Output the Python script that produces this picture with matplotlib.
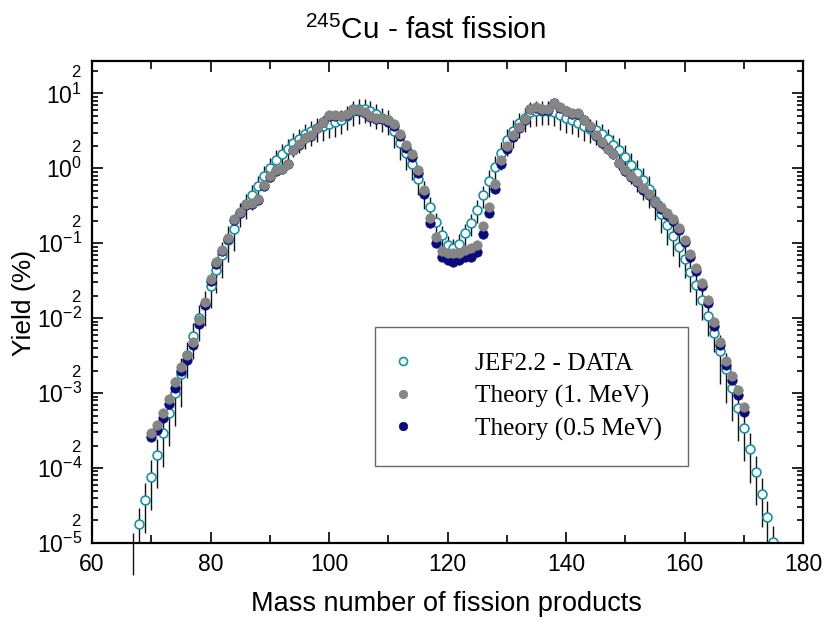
import numpy as np
import matplotlib
matplotlib.use('Agg')
import matplotlib.pyplot as plt
from matplotlib.ticker import LogLocator, FuncFormatter, MultipleLocator

plt.rcParams['font.family'] = ['Liberation Sans', 'DejaVu Sans']
plt.rcParams['mathtext.fontset'] = 'custom'
plt.rcParams['mathtext.rm'] = 'Liberation Sans'
plt.rcParams['mathtext.it'] = 'Liberation Sans:italic'
plt.rcParams['mathtext.bf'] = 'Liberation Sans:bold'

# JEF2.2 evaluated yields (%), mass 68..175
mass_jef = list(range(68, 176))
yield_jef = [
    1.8e-5, 3.8e-5, 7.7e-5, 1.5e-4, 2.9e-4, 5.5e-4, 1.0e-3, 1.8e-3,      # 68-75
    3.2e-3, 5.7e-3, 1.0e-2, 1.55e-2, 2.7e-2, 4.4e-2, 6.9e-2, 0.112,      # 76-83
    0.157, 0.254, 0.33, 0.44, 0.575, 0.79, 1.02, 1.28,                   # 84-91
    1.57, 1.83, 2.2, 2.49, 2.84, 3.14, 3.49, 3.65,                       # 92-99
    3.94, 4.15, 4.46, 5.0, 5.75, 6.1, 6.2, 5.75,                         # 100-107
    5.25, 4.75, 4.4, 3.14, 2.17, 1.6, 1.15, 0.73,                        # 108-115
    0.48, 0.30, 0.19, 0.128, 0.094, 0.086, 0.099, 0.135,                 # 116-123
    0.187, 0.28, 0.44, 0.68, 1.04, 1.6, 2.41, 3.14,                      # 124-131
    4.0, 4.75, 5.6, 5.75, 5.9, 5.9, 5.7, 5.1,                            # 132-139
    4.69, 4.46, 4.07, 3.66, 3.38, 3.21, 2.84, 2.49,                      # 140-147
    2.07, 1.74, 1.42, 1.12, 0.877, 0.69, 0.536, 0.37,                    # 148-155
    0.249, 0.174, 0.124, 0.088, 0.062, 0.041, 0.0275, 0.0174,            # 156-163
    0.0106, 0.0064, 3.66e-3, 2.07e-3, 1.18e-3, 6.4e-4, 3.4e-4, 1.77e-4,  # 164-171
    8.9e-5, 4.5e-5, 2.2e-5, 1.04e-5,                                     # 172-175
]
rel_err_jef = [
    0.64, 0.64, 0.64, 0.64, 0.64, 0.64, 0.64, 0.64,
    0.50, 0.50, 0.50, 0.50, 0.50, 0.50, 0.50, 0.50,
    0.50, 0.36, 0.36, 0.36, 0.36, 0.36, 0.36, 0.36,
    0.36, 0.36, 0.36, 0.36, 0.36, 0.36, 0.36, 0.36,
    0.36, 0.36, 0.36, 0.36, 0.36, 0.36, 0.36, 0.36,
    0.36, 0.36, 0.36, 0.40, 0.40, 0.40, 0.40, 0.40,
    0.40, 0.40, 0.33, 0.33, 0.33, 0.33, 0.33, 0.33,
    0.33, 0.33, 0.33, 0.40, 0.40, 0.40, 0.40, 0.40,
    0.36, 0.36, 0.36, 0.36, 0.36, 0.36, 0.36, 0.36,
    0.36, 0.36, 0.36, 0.36, 0.36, 0.36, 0.36, 0.36,
    0.36, 0.45, 0.45, 0.45, 0.45, 0.45, 0.45, 0.45,
    0.45, 0.45, 0.45, 0.45, 0.45, 0.45, 0.45, 0.45,
    0.45, 0.45, 0.64, 0.64, 0.64, 0.64, 0.64, 0.64,
    0.64, 0.64, 0.64, 0.64,
]

# error bar of the point at A=67 that sits below the plotted range
stray_mass = [67]
stray_lo = [3.7e-6]
stray_hi = [1.36e-5]

# theory, mass 70..170
mass_th = list(range(70, 171))
yield_1mev = [
    2.96e-4, 3.74e-4, 5.5e-4, 8.3e-4, 1.4e-3, 2.24e-3, 3.2e-3, 4.8e-3,   # 70-77
    9.6e-3, 1.65e-2, 3.3e-2, 5.6e-2, 8.2e-2, 0.118, 0.213, 0.26,         # 78-85
    0.33, 0.34, 0.39, 0.59, 0.78, 0.94, 0.99, 1.15,                      # 86-93
    1.77, 2.09, 2.57, 2.75, 3.45, 4.15, 5.1, 5.1,                        # 94-101
    5.0, 5.25, 6.2, 6.0, 5.65, 4.95, 4.7, 4.65,                          # 102-109
    4.4, 3.94, 2.9, 2.03, 1.57, 0.96, 0.52, 0.22,                        # 110-117
    0.121, 0.079, 0.073, 0.073, 0.073, 0.081, 0.086, 0.094,              # 118-125
    0.169, 0.305, 0.61, 1.3, 1.99, 2.75, 3.56, 4.5,                      # 126-133
    6.25, 6.5, 6.1, 6.1, 7.5, 6.5, 5.9, 5.4,                             # 134-141
    5.4, 4.46, 3.66, 2.75, 2.24, 1.83, 1.57, 1.19,                       # 142-149
    0.94, 0.79, 0.67, 0.54, 0.46, 0.36, 0.30, 0.25,                      # 150-157
    0.213, 0.162, 0.112, 0.071, 0.047, 0.0296, 0.0177, 0.0090,           # 158-165
    4.8e-3, 2.7e-3, 1.69e-3, 1.1e-3, 6.6e-4,                             # 166-170
]
yield_05mev = [
    2.56e-4, 3.2e-4, 4.7e-4, 7.1e-4, 1.17e-3, 1.95e-3, 2.8e-3, 4.4e-3,
    8.3e-3, 1.5e-2, 3.1e-2, 5.3e-2, 7.9e-2, 0.114, 0.205, 0.25,
    0.32, 0.33, 0.38, 0.58, 0.77, 0.93, 0.98, 1.14,
    1.75, 2.07, 2.55, 2.73, 3.43, 4.12, 5.05, 5.05,
    4.95, 5.2, 6.1, 5.9, 5.55, 4.85, 4.6, 4.5,
    4.2, 3.7, 2.7, 1.85, 1.42, 0.86, 0.45, 0.186,
    0.10, 0.066, 0.059, 0.056, 0.059, 0.066, 0.066, 0.076,
    0.134, 0.25, 0.53, 1.15, 1.8, 2.6, 3.4, 4.35,
    6.1, 6.4, 6.0, 6.0, 7.4, 6.4, 5.8, 5.3,
    5.3, 4.4, 3.6, 2.7, 2.2, 1.8, 1.54, 1.16,
    0.92, 0.77, 0.65, 0.52, 0.44, 0.345, 0.285, 0.235,
    0.2, 0.152, 0.104, 0.066, 0.043, 0.027, 0.016, 7.9e-3,
    4.4e-3, 2.35e-3, 1.5e-3, 9.4e-4, 5.6e-4,
]

x_ticks = [60, 80, 100, 120, 140, 160, 180]

c_jef = '#1593a6'
c_1mev = '#858585'
c_05mev = '#0a0a7a'

fig = plt.figure(figsize=(8.26, 6.24), dpi=100)
ax = fig.add_axes([0.1114, 0.1298, 0.8608, 0.7724])

yerr = np.array(yield_jef) * np.array(rel_err_jef)
ax.errorbar(mass_jef, yield_jef, yerr=yerr, fmt='none', ecolor='#111111',
            elinewidth=1.0, capsize=0, zorder=1)
ax.vlines(stray_mass, stray_lo, stray_hi, color='#111111', lw=1.0, clip_on=False, zorder=1)
h_jef, = ax.plot(mass_jef, yield_jef, 'o', ls='none', ms=6.4, mfc='white', mec=c_jef,
                 mew=1.2, label='JEF2.2 - DATA', zorder=2)
h05, = ax.plot(mass_th, yield_05mev, 'o', ls='none', ms=6.8, mfc=c_05mev, mec=c_05mev,
               mew=0.5, label='Theory (0.5 MeV)', zorder=3)
h1, = ax.plot(mass_th, yield_1mev, 'o', ls='none', ms=6.8, mfc=c_1mev, mec=c_1mev,
              mew=0.5, label='Theory (1. MeV)', zorder=4)

ax.set_yscale('log')
ax.set_xlim(60, 180)
ax.set_ylim(1e-5, 27)
ax.set_xticks(x_ticks)
ax.xaxis.set_minor_locator(MultipleLocator(10))
ax.yaxis.set_major_locator(LogLocator(base=10, numticks=20))
ax.yaxis.set_minor_locator(LogLocator(base=10, subs=np.arange(2, 10), numticks=20))


def minor_label(v, pos):
    m = v / 10 ** np.floor(np.log10(v) + 1e-9)
    return '2' if abs(m - 2) < 0.01 else ''


ax.yaxis.set_minor_formatter(FuncFormatter(minor_label))
ax.tick_params(axis='both', which='both', direction='in', top=True, right=True, width=1.2)
ax.tick_params(axis='both', which='major', length=8, labelsize=16.5, pad=7)
ax.tick_params(axis='y', which='minor', length=4.5, labelsize=12, pad=8)
ax.tick_params(axis='x', which='minor', length=5.5)
for s in ax.spines.values():
    s.set_linewidth(1.6)

leg = ax.legend(handles=[h_jef, h1, h05], loc='upper left', bbox_to_anchor=(0.398, 0.448),
                borderaxespad=0, prop={'family': 'Liberation Serif', 'size': 18.3},
                frameon=True, fancybox=False, borderpad=1.0, handlelength=0.2,
                handletextpad=2.74, labelspacing=0.37, markerscale=0.9)
leg.get_frame().set_edgecolor('#444444')
leg.get_frame().set_linewidth(1.0)

fig.text(425 / 826, 1 - 30 / 624, r'$^{245}$Cu - fast fission', ha='center', va='center',
         fontsize=21.4)
fig.text(446 / 826, 1 - 604 / 624, 'Mass number of fission products', ha='center',
         va='center', fontsize=19.5)
fig.text(24 / 826, 1 - 303 / 624, 'Yield (%)', ha='center', va='center', rotation=90,
         fontsize=19)

fig.savefig('out.png', dpi=100)
